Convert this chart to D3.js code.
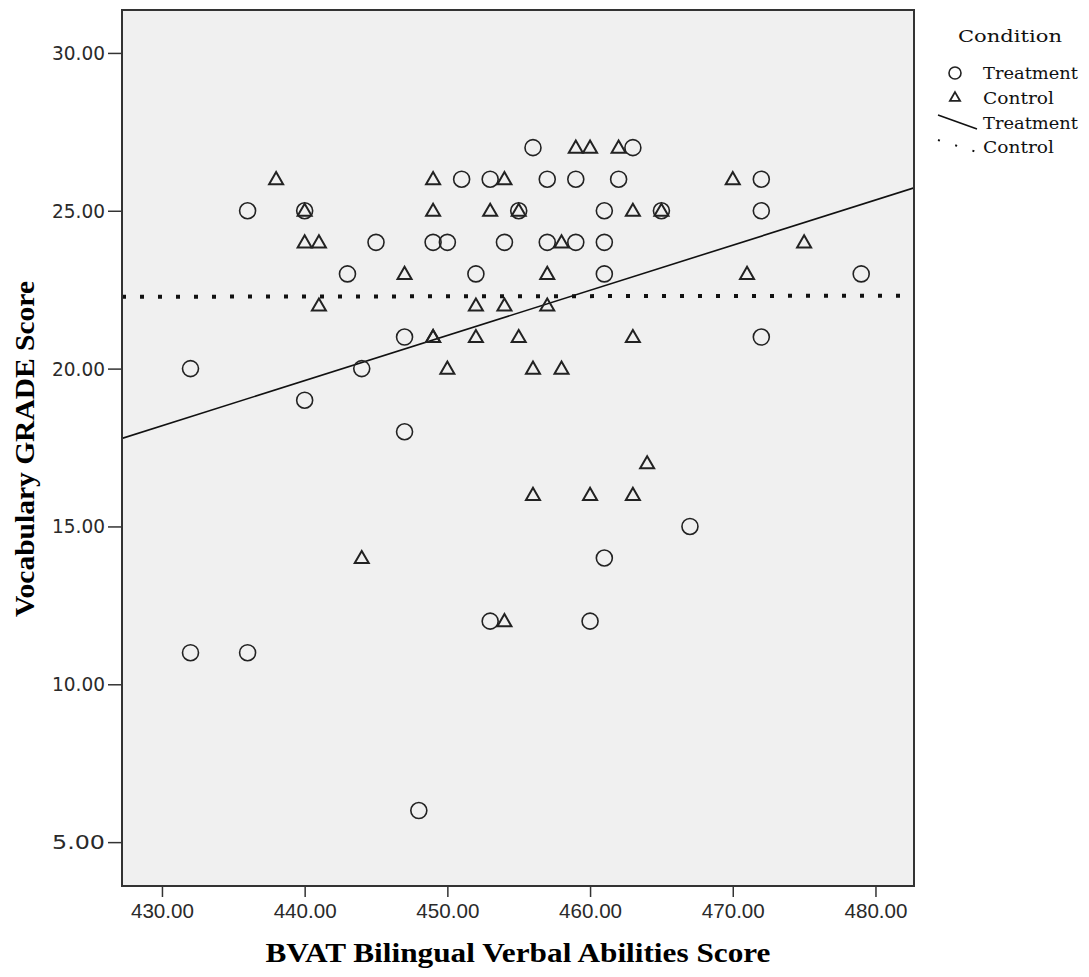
<!DOCTYPE html>
<html>
<head>
<meta charset="utf-8">
<script src="https://cdn.jsdelivr.net/npm/d3@7"></script>
<style>
	body { margin: 0; background: #fff; }
	svg { display: block; }
</style>
</head>
<body>
<svg id="chart" width="1089" height="977"></svg>
<script>
// BVAT score vs vocabulary GRADE score, by condition
const treatmentBVAT = [456, 463, 451, 453, 457, 459, 462, 472, 436, 440, 455, 461, 465, 472, 445, 449, 450, 454, 457, 459, 461, 443, 452, 461, 479, 447, 472, 432, 444, 440, 447, 467, 461, 453, 460, 432, 436, 448]
const treatmentGrade = [27, 27, 26, 26, 26, 26, 26, 26, 25, 25, 25, 25, 25, 25, 24, 24, 24, 24, 24, 24, 24, 23, 23, 23, 23, 21, 21, 20, 20, 19, 18, 15, 14, 12, 12, 11, 11, 6]

const controlBVAT = [459, 460, 462, 438, 449, 454, 470, 440, 449, 453, 455, 463, 465, 440, 441, 458, 475, 447, 457, 471, 441, 452, 454, 457, 449, 449, 452, 455, 463, 450, 456, 458, 464, 456, 460, 463, 444, 454]
const controlGrade = [27, 27, 27, 26, 26, 26, 26, 25, 25, 25, 25, 25, 25, 24, 24, 24, 24, 23, 23, 23, 22, 22, 22, 22, 21, 21, 21, 21, 21, 20, 20, 20, 17, 16, 16, 16, 14, 12]

// fit lines: [slope, intercept]
const treatmentFit = [0.143, -43.3]
const controlFit = [0.0006, 22.02]

const xTicks = [430, 440, 450, 460, 470, 480]
const yTicks = [5, 10, 15, 20, 25, 30]

const legendItems = ["Treatment", "Control", "Treatment", "Control"]

const svg = d3.select("#chart")

const plot = { left: 122, right: 914, top: 10, bottom: 886 }

const x = d3.scaleLinear()
	.domain([427.2, 482.7])
	.range([plot.left, plot.right])

const y = d3.scaleLinear()
	.domain([3.61, 31.36])
	.range([plot.bottom, plot.top])

svg.append("defs").append("clipPath")
	.attr("id", "clip")
	.append("rect")
	.attr("x", plot.left)
	.attr("y", plot.top)
	.attr("width", plot.right - plot.left)
	.attr("height", plot.bottom - plot.top)

// plot background
svg.append("rect")
	.attr("x", plot.left)
	.attr("y", plot.top)
	.attr("width", plot.right - plot.left)
	.attr("height", plot.bottom - plot.top)
	.attr("fill", "#f0f0f0")

// axes
const xAxis = svg.append("g")
	.attr("transform", `translate(0,${plot.bottom})`)
	.call(d3.axisBottom(x).tickValues(xTicks).tickSize(11).tickPadding(6).tickFormat(d3.format(".2f")))

xAxis.select(".domain").remove()
xAxis.selectAll("line").attr("stroke", "#333").attr("stroke-width", 1.5)
xAxis.selectAll("text")
	.attr("fill", "#2a2a2a")
	.style("font-family", "'Liberation Sans', Arial, sans-serif")
	.style("font-size", "21px")
	.attr("textLength", 63)
	.attr("lengthAdjust", "spacingAndGlyphs")

const yAxis = svg.append("g")
	.attr("transform", `translate(${plot.left},0)`)
	.call(d3.axisLeft(y).tickValues(yTicks).tickSize(14).tickPadding(3).tickFormat(d3.format(".2f")))

yAxis.select(".domain").remove()
yAxis.selectAll("line").attr("stroke", "#333").attr("stroke-width", 1.5)
yAxis.selectAll("text")
	.attr("fill", "#2a2a2a")
	.style("font-family", "'DejaVu Sans', Verdana, sans-serif")
	.style("font-size", "20px")
	.attr("textLength", 53)
	.attr("lengthAdjust", "spacingAndGlyphs")

// fit lines
const fitLine = fit => d3.line()
	.x(d => x(d))
	.y(d => y(fit[0] * d + fit[1]))(x.domain())

const marks = svg.append("g").attr("clip-path", "url(#clip)")

marks.append("path")
	.attr("d", fitLine(treatmentFit))
	.attr("fill", "none")
	.attr("stroke", "#111")
	.attr("stroke-width", 1.6)

marks.append("path")
	.attr("d", fitLine(controlFit))
	.attr("fill", "none")
	.attr("stroke", "#111")
	.attr("stroke-width", 4)
	.attr("stroke-dasharray", "4,14")

// points
const treatment = treatmentBVAT.map((v, i) => [v, treatmentGrade[i]])
const control = controlBVAT.map((v, i) => [v, controlGrade[i]])

marks.selectAll(".treat")
	.data(treatment)
	.enter()
	.append("circle")
	.attr("class", "treat")
	.attr("cx", d => x(d[0]))
	.attr("cy", d => y(d[1]))
	.attr("r", 8)
	.attr("fill", "none")
	.attr("stroke", "#222")
	.attr("stroke-width", 1.6)

const triangle = d3.symbol().type(d3.symbolTriangle).size(85)

marks.selectAll(".ctrl")
	.data(control)
	.enter()
	.append("path")
	.attr("class", "ctrl")
	.attr("d", triangle)
	.attr("transform", d => `translate(${x(d[0])},${y(d[1]) + 1})`)
	.attr("fill", "none")
	.attr("stroke", "#222")
	.attr("stroke-width", 2)

// frame
svg.append("rect")
	.attr("x", plot.left)
	.attr("y", plot.top)
	.attr("width", plot.right - plot.left)
	.attr("height", plot.bottom - plot.top)
	.attr("fill", "none")
	.attr("stroke", "#333")
	.attr("stroke-width", 2)

// axis titles
svg.append("text")
	.attr("x", (plot.left + plot.right) / 2)
	.attr("y", 962)
	.attr("text-anchor", "middle")
	.style("font-family", "'Liberation Serif', 'Times New Roman', serif")
	.style("font-weight", "bold")
	.style("font-size", "28px")
	.attr("textLength", 505)
	.attr("lengthAdjust", "spacingAndGlyphs")
	.text("BVAT Bilingual Verbal Abilities Score")

svg.append("text")
	.attr("transform", "translate(34,449) rotate(-90)")
	.attr("text-anchor", "middle")
	.style("font-family", "'Liberation Serif', 'Times New Roman', serif")
	.style("font-weight", "bold")
	.style("font-size", "28px")
	.attr("textLength", 336)
	.attr("lengthAdjust", "spacingAndGlyphs")
	.text("Vocabulary GRADE Score")

// legend
const legend = svg.append("g")
	.style("font-family", "'DejaVu Serif', serif")
	.style("font-size", "17px")
	.attr("fill", "#111")

legend.append("text")
	.attr("x", 958)
	.attr("y", 42)
	.attr("textLength", 104)
	.attr("lengthAdjust", "spacingAndGlyphs")
	.text("Condition")

const rowY = [79, 104, 129, 153]

legend.selectAll(".lab")
	.data(legendItems)
	.enter()
	.append("text")
	.attr("class", "lab")
	.attr("x", 983)
	.attr("y", (d, i) => rowY[i])
	.attr("textLength", d => d == "Treatment" ? 95 : 71)
	.attr("lengthAdjust", "spacingAndGlyphs")
	.text(d => d)

legend.append("circle")
	.attr("cx", 955)
	.attr("cy", 73)
	.attr("r", 6)
	.attr("fill", "none")
	.attr("stroke", "#222")
	.attr("stroke-width", 1.6)

legend.append("path")
	.attr("d", d3.symbol().type(d3.symbolTriangle).size(45)())
	.attr("transform", "translate(955,98)")
	.attr("fill", "none")
	.attr("stroke", "#222")
	.attr("stroke-width", 1.8)

legend.append("line")
	.attr("x1", 938).attr("y1", 115)
	.attr("x2", 977).attr("y2", 129)
	.attr("stroke", "#111")
	.attr("stroke-width", 1.6)

legend.append("line")
	.attr("x1", 938).attr("y1", 140)
	.attr("x2", 977).attr("y2", 152)
	.attr("stroke", "#111")
	.attr("stroke-width", 2)
	.attr("stroke-dasharray", "2,16")
</script>
</body>
</html>
